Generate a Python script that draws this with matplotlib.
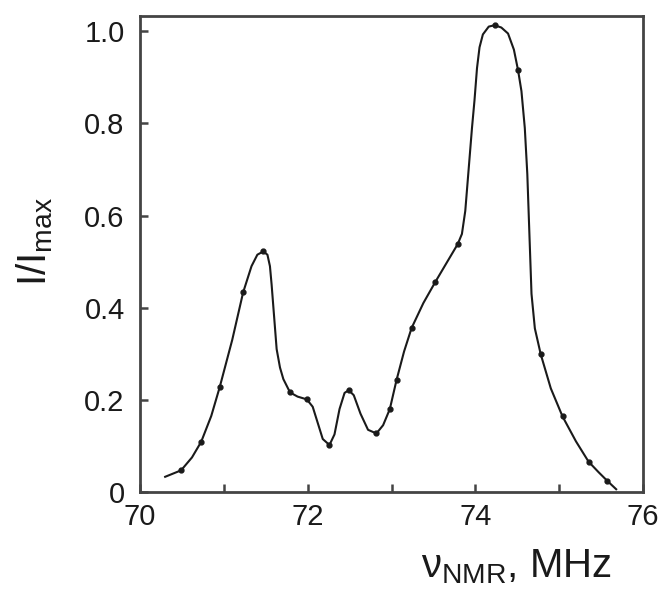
import matplotlib
matplotlib.use('Agg')
import matplotlib.pyplot as plt

# traced NMR line shape (frequency in MHz, normalised intensity)
curve_x = [70.30, 70.49, 70.62, 70.73, 70.85, 70.95, 71.10, 71.23, 71.33, 71.40,
           71.47, 71.52, 71.55, 71.57, 71.60, 71.63, 71.67, 71.71, 71.79, 71.88,
           71.99, 72.06, 72.12, 72.18, 72.26, 72.32, 72.38, 72.44, 72.49, 72.55,
           72.63, 72.72, 72.82, 72.90, 72.98, 73.06, 73.15, 73.24, 73.38, 73.52,
           73.65, 73.79, 73.84, 73.88, 73.92, 73.96, 73.99, 74.02, 74.05, 74.09,
           74.16, 74.23, 74.31, 74.39, 74.46, 74.51, 74.55, 74.59, 74.62, 74.645,
           74.67, 74.71, 74.78, 74.90, 75.04, 75.20, 75.35, 75.47, 75.575, 75.68]
curve_y = [0.033, 0.047, 0.075, 0.109, 0.165, 0.227, 0.330, 0.433, 0.490, 0.515,
           0.522, 0.515, 0.490, 0.450, 0.380, 0.310, 0.270, 0.245, 0.216, 0.207,
           0.201, 0.185, 0.150, 0.115, 0.102, 0.125, 0.180, 0.215, 0.221, 0.210,
           0.170, 0.135, 0.127, 0.145, 0.180, 0.243, 0.305, 0.356, 0.410, 0.455,
           0.495, 0.538, 0.560, 0.610, 0.700, 0.790, 0.850, 0.920, 0.965, 0.993,
           1.010, 1.013, 1.008, 0.995, 0.960, 0.915, 0.870, 0.790, 0.690, 0.560,
           0.430, 0.355, 0.299, 0.225, 0.164, 0.110, 0.066, 0.043, 0.024, 0.006]

# measured points (dots)
dots_x = [70.49, 70.73, 70.95, 71.23, 71.47, 71.79, 71.99, 72.26, 72.49, 72.82,
          72.98, 73.06, 73.24, 73.52, 73.79, 74.23, 74.51, 74.78, 75.04, 75.35, 75.575]
dots_y = [0.047, 0.109, 0.227, 0.433, 0.522, 0.216, 0.201, 0.102, 0.221, 0.127,
          0.180, 0.243, 0.356, 0.455, 0.538, 1.013, 0.915, 0.299, 0.164, 0.066, 0.024]

xticks = [70, 71, 72, 73, 74, 75, 76]
xticklabels = ['70', '', '72', '', '74', '', '76']
yticks = [0, 0.2, 0.4, 0.6, 0.8, 1.0]
yticklabels = ['0', '0.2', '0.4', '0.6', '0.8', '1.0']

plt.rcParams['font.family'] = ['Liberation Sans', 'DejaVu Sans']
plt.rcParams['mathtext.fontset'] = 'custom'
plt.rcParams['mathtext.rm'] = 'Liberation Sans'
plt.rcParams['mathtext.it'] = 'Liberation Sans:italic'

fig = plt.figure(figsize=(6.65, 5.89), dpi=100)
ax = fig.add_axes([140 / 665, 1 - 492 / 589, 503 / 665, 476 / 589])

ax.plot(curve_x, curve_y, color='#1a1a1a', lw=1.5)
ax.plot(dots_x, dots_y, 'o', color='#1a1a1a', ms=3.5)

ax.set_xlim(70, 76)
ax.set_ylim(0, 1.033)
ax.set_xticks(xticks)
ax.set_xticklabels(xticklabels)
ax.set_yticks(yticks)
ax.set_yticklabels(yticklabels)

for s in ax.spines.values():
    s.set_linewidth(2.0)
    s.set_color('#444444')
ax.tick_params(direction='in', length=6, width=1.8, color='#444444',
               labelsize=21, labelcolor='#1a1a1a')
ax.tick_params(axis='x', pad=8)
ax.tick_params(axis='y', pad=11)

fig.text(516 / 665, 1 - 567 / 589, '$\\mathrm{ν}_{\\mathrm{NMR}}$, MHz',
         fontsize=29, ha='center', va='center', color='#1a1a1a')
fig.text(35 / 665, 1 - 242 / 589, 'I/I$_{\\mathrm{max}}$', fontsize=29,
         rotation=90, ha='center', va='center', color='#1a1a1a')

fig.savefig('out.png', dpi=100)
